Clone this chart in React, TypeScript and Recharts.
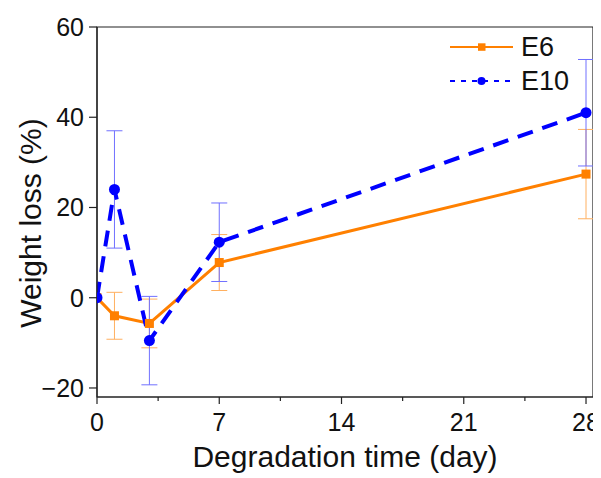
import React from "react";
import {
  LineChart,
  Line,
  XAxis,
  YAxis,
  ErrorBar,
  ReferenceArea,
  Legend,
} from "recharts";

const days = [0, 1, 3, 7, 28];
const e6 = [0, -4, -5.7, 7.8, 27.4];
const e6Err = [0, 5.2, 5.4, 6.2, 9.9];
const e10 = [0, 24, -9.5, 12.3, 41];
const e10Err = [0, 13, 9.8, 8.7, 11.8];

const xTicks = [0, 3.5, 7, 10.5, 14, 17.5, 21, 24.5, 28];
const xMajor = [0, 7, 14, 21, 28];
const yTicks = [-20, 0, 20, 40, 60];

const ORANGE = "#FF8000";
const BLUE = "#0000FF";
const AXIS = "#222";
const FONT = "'Liberation Sans', Arial, sans-serif";

const data = days.map((d, i) => ({
  day: d,
  e6: e6[i],
  e6Err: e6Err[i],
  e10: e10[i],
  e10Err: e10Err[i],
}));

const XTick = (props: any) => {
  const { x, y, payload } = props;
  const major = xMajor.includes(payload.value);
  return (
    <g>
      <line x1={x} x2={x} y1={y} y2={y + (major ? 7 : 4)} stroke={AXIS} strokeWidth={1.2} />
      {major && (
        <text x={x} y={y + 34} textAnchor="middle" fontSize={25} fontFamily={FONT} fill="#111">
          {payload.value}
        </text>
      )}
    </g>
  );
};

const YTick = (props: any) => {
  const { x, y, payload } = props;
  const label = payload.value < 0 ? `\u2212${Math.abs(payload.value)}` : `${payload.value}`;
  return (
    <g>
      <line x1={x - 8} x2={x} y1={y} y2={y} stroke={AXIS} strokeWidth={1.2} />
      <text x={x - 13} y={y} textAnchor="end" dominantBaseline="central" fontSize={25} fontFamily={FONT} fill="#111">
        {label}
      </text>
    </g>
  );
};

const SquareDot = (props: any) => {
  const { cx, cy } = props;
  if (cx == null || cy == null) return null;
  return <rect x={cx - 4.5} y={cy - 4.5} width={9} height={9} fill={ORANGE} />;
};

const CircleDot = (props: any) => {
  const { cx, cy } = props;
  if (cx == null || cy == null) return null;
  return <circle cx={cx} cy={cy} r={5.5} fill={BLUE} />;
};

const LegendBox = () => (
  <svg width={160} height={75}>
    <line x1={2} x2={65} y1={19} y2={19} stroke={ORANGE} strokeWidth={2} />
    <rect x={30} y={15.3} width={7.5} height={7.5} fill={ORANGE} />
    <text x={73} y={19} dominantBaseline="central" fontSize={27} fontFamily={FONT} fill="#111">
      E6
    </text>
    <line x1={2} x2={65} y1={53} y2={53} stroke={BLUE} strokeWidth={2} strokeDasharray="5 6" />
    <circle cx={33.5} cy={53} r={4} fill={BLUE} />
    <text x={73} y={53} dominantBaseline="central" fontSize={27} fontFamily={FONT} fill="#111">
      E10
    </text>
  </svg>
);

const App: React.FC = () => {
  return (
    <div style={{ width: 593, height: 470, background: "#fff" }}>
      <LineChart
        width={593}
        height={470}
        data={data}
        margin={{ top: 19, right: 8, left: 0, bottom: 0 }}
      >
        <XAxis
          dataKey="day"
          type="number"
          domain={[0, 28.4]}
          ticks={xTicks}
          interval={0}
          allowDataOverflow
          height={81}
          stroke={AXIS}
          strokeWidth={1.2}
          tickLine={false}
          tickSize={0}
          tickMargin={0}
          tick={<XTick />}
          label={(p: any) => {
            const vb = p.viewBox;
            return (
              <text
                x={vb.x + vb.width / 2}
                y={vb.y + 70}
                textAnchor="middle"
                fontSize={30}
                fontFamily={FONT}
                fill="#111"
              >
                Degradation time (day)
              </text>
            );
          }}
        />
        <YAxis
          type="number"
          domain={[-22, 60]}
          ticks={yTicks}
          interval={0}
          allowDataOverflow
          width={89}
          stroke={AXIS}
          strokeWidth={1.2}
          tickLine={false}
          tickSize={0}
          tickMargin={0}
          tick={<YTick />}
          label={() => (
            <text
              x={22}
              y={215}
              transform="rotate(-90 22 215)"
              textAnchor="middle"
              dominantBaseline="central"
              fontSize={30}
              fontFamily={FONT}
              fill="#111"
            >
              Weight loss (%)
            </text>
          )}
        />
        <ReferenceArea
          x1={0}
          x2={28.4}
          y1={-22}
          y2={60}
          fill="none"
          fillOpacity={0}
          stroke={AXIS}
          strokeWidth={1.2}
          ifOverflow="visible"
        />
        <Line
          type="linear"
          dataKey="e6"
          stroke={ORANGE}
          strokeWidth={3}
          dot={<SquareDot />}
          activeDot={false}
          isAnimationActive={false}
        >
          <ErrorBar dataKey="e6Err" width={8} stroke="#FFB060" strokeWidth={1} direction="y" />
        </Line>
        <Line
          type="linear"
          dataKey="e10"
          stroke={BLUE}
          strokeWidth={4}
          strokeDasharray="16 10"
          dot={<CircleDot />}
          activeDot={false}
          isAnimationActive={false}
        >
          <ErrorBar dataKey="e10Err" width={8} stroke="#7070FF" strokeWidth={1} direction="y" />
        </Line>
        <Legend
          layout="horizontal"
          verticalAlign="middle"
          align="center"
          wrapperStyle={{ position: "absolute", left: 440, top: 20, width: 160, height: 75 }}
          content={<LegendBox />}
        />
      </LineChart>
    </div>
  );
};

export default App;
